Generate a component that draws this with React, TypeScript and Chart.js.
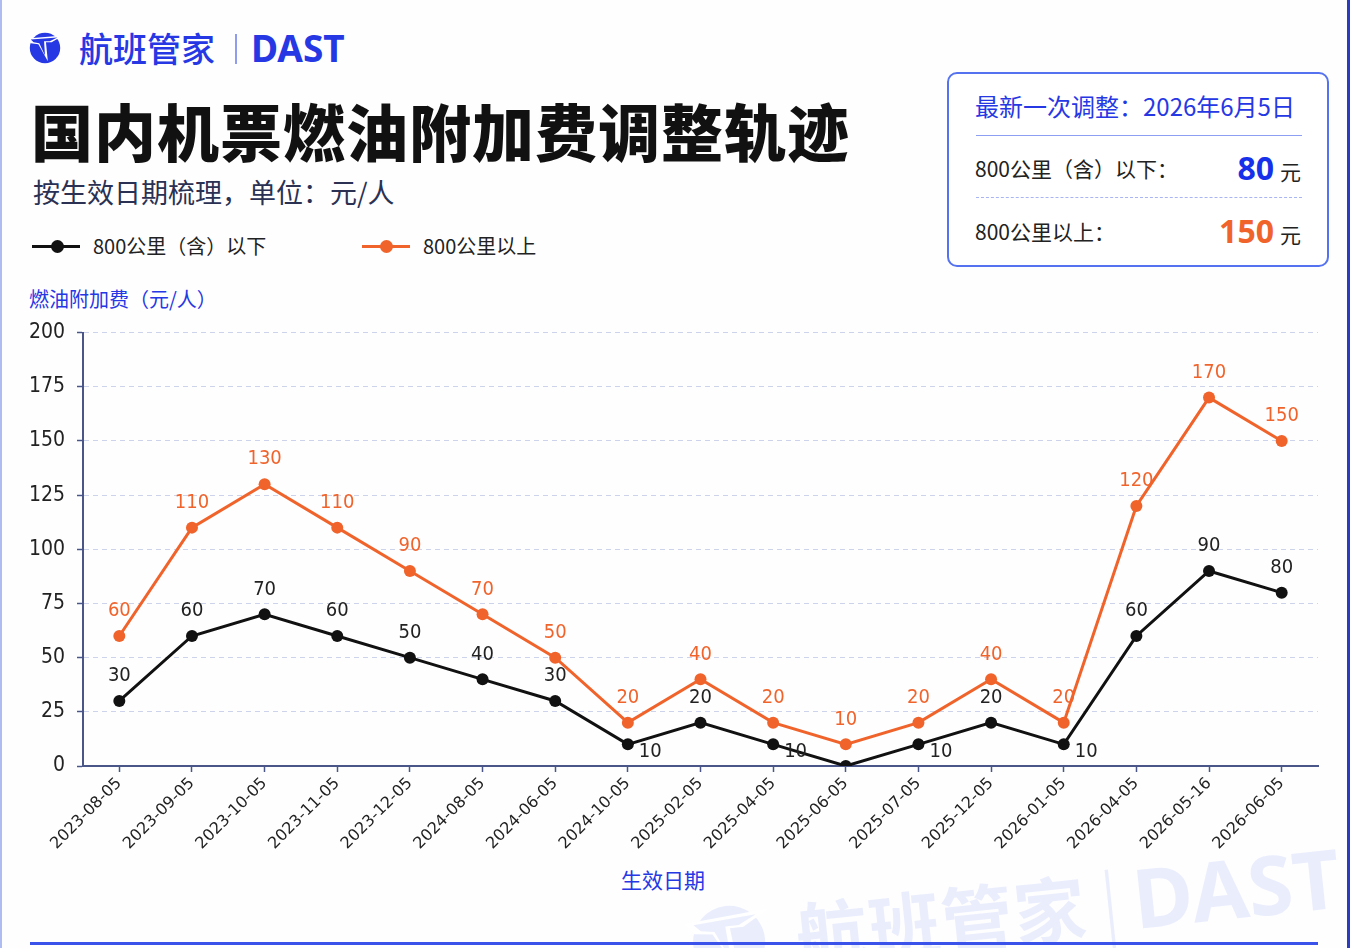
import React, { useEffect, useRef } from "react";
import { Chart, registerables } from "chart.js";
Chart.register(...registerables);

const categories = [
  "2023-08-05", "2023-09-05", "2023-10-05", "2023-11-05", "2023-12-05",
  "2024-08-05", "2024-06-05", "2024-10-05", "2025-02-05", "2025-04-05",
  "2025-06-05", "2025-07-05", "2025-12-05", "2026-01-05", "2026-04-05",
  "2026-05-16", "2026-06-05",
];
const below800 = [30, 60, 70, 60, 50, 40, 30, 10, 20, 10, 0, 10, 20, 10, 60, 90, 80];
const above800 = [60, 110, 130, 110, 90, 70, 50, 20, 40, 20, 10, 20, 40, 20, 120, 170, 150];
const yTicks = [0, 25, 50, 75, 100, 125, 150, 175, 200];

const seriesNames = ["800公里（含）以下", "800公里以上"];
const BLACK = "#111111";
const ORANGE = "#f0642c";
const BLUE = "#2638e4";
const AXIS = "#4a5687";
const CJK = "'Noto Sans CJK SC', 'Noto Sans', sans-serif";
const NUM = "'DejaVu Sans', sans-serif";

const condensePlugin = {
  id: "condense",
  beforeDraw(chart: any) {
    try {
      chart.ctx.fontStretch = "condensed";
    } catch (e) {}
  },
};

const labelPlugin = {
  id: "pointLabels",
  afterDatasetsDraw(chart: any) {
    const ctx = chart.ctx;
    ctx.save();
    ctx.font = `20px ${NUM}`;
    try {
      ctx.fontStretch = "condensed";
    } catch (e) {}
    chart.data.datasets.forEach((ds: any, di: number) => {
      const meta = chart.getDatasetMeta(di);
      meta.data.forEach((pt: any, i: number) => {
        const v = ds.data[i];
        ctx.fillStyle = di === 0 ? "#222222" : ORANGE;
        ctx.textBaseline = "middle";
        if (di === 0) {
          if (v === 0) return;
          if (v === 10) {
            ctx.textAlign = "left";
            ctx.fillText(String(v), pt.x + 11, pt.y + 7);
            return;
          }
        }
        ctx.textAlign = "center";
        ctx.fillText(String(v), pt.x, pt.y - 25);
      });
    });
    ctx.restore();
  },
};

function Logo({ size, color }: { size: number; color: string }) {
  return (
    <svg width={size} height={size} viewBox="0 0 40 40">
      <circle cx="20" cy="21" r="16" fill={color} />
      <path d="M1 11 L39 8 L27 15 L21 15 L23 35 L13 17 L5 16 Z" fill="#ffffff" />
      <path d="M5 12 L33 10 L25 14 L19 14 L20 29 L14 16 L8 15 Z" fill={color} />
    </svg>
  );
}

export default function App() {
  const ref = useRef<HTMLCanvasElement | null>(null);

  useEffect(() => {
    if (!ref.current) return;
    const chart = new Chart(ref.current, {
      type: "line",
      data: {
        labels: categories,
        datasets: [
          {
            label: seriesNames[0],
            data: below800,
            borderColor: BLACK,
            backgroundColor: BLACK,
            pointBackgroundColor: BLACK,
            pointBorderWidth: 0,
            pointRadius: 6,
            borderWidth: 3,
            tension: 0,
          },
          {
            label: seriesNames[1],
            data: above800,
            borderColor: ORANGE,
            backgroundColor: ORANGE,
            pointBackgroundColor: ORANGE,
            pointBorderWidth: 0,
            pointRadius: 6,
            borderWidth: 3,
            tension: 0,
          },
        ],
      },
      options: {
        responsive: false,
        animation: false,
        layout: { padding: { left: 23, right: 34, top: 11, bottom: 14 } },
        plugins: {
          legend: { display: false },
          tooltip: { enabled: false },
        },
        scales: {
          x: {
            offset: true,
            grid: {
              drawOnChartArea: false,
              drawTicks: true,
              tickLength: 6,
              tickColor: AXIS,
              tickWidth: 1.5,
            },
            border: { display: true, color: AXIS, width: 2 },
            ticks: {
              autoSkip: false,
              maxRotation: 45,
              minRotation: 45,
              padding: 2,
              color: "#222222",
              font: { family: NUM, size: 16 },
            },
            afterFit: (s: any) => {
              s.height = 100;
            },
          },
          y: {
            min: 0,
            max: 200,
            afterBuildTicks: (s: any) => {
              s.ticks = yTicks.map((v) => ({ value: v }));
            },
            grid: {
              color: "#cdd3ea",
              lineWidth: 1,
              tickColor: AXIS,
              tickLength: 6,
              tickWidth: 1.5,
            },
            border: { display: true, color: AXIS, width: 2, dash: [5, 4] },
            ticks: {
              padding: 12,
              color: "#222222",
              font: { family: NUM, size: 21 },
            },
            afterFit: (s: any) => {
              s.width = 60;
            },
          },
        },
      },
      plugins: [condensePlugin, labelPlugin],
    } as any);
    return () => chart.destroy();
  }, []);

  const abs = (x: number, y: number): React.CSSProperties => ({ position: "absolute", left: x, top: y });

  return (
    <div
      style={{
        position: "absolute",
        left: 0,
        top: 0,
        width: 1352,
        height: 948,
        overflow: "hidden",
        background: "#fefeff",
        fontFamily: CJK,
      }}
    >
      {/* frame lines */}
      <div style={{ ...abs(0, 0), width: 2, height: 948, background: "#aebcf2" }} />
      <div style={{ ...abs(1347, 0), width: 3, height: 948, background: "#2c3cc0" }} />

      {/* watermark */}
      <div
        style={{
          ...abs(690, 888),
          display: "flex",
          alignItems: "center",
          transform: "rotate(-6deg)",
          transformOrigin: "left bottom",
          color: "rgba(70,100,225,0.11)",
          whiteSpace: "nowrap",
        }}
      >
        <Logo size={90} color="rgba(70,100,225,0.11)" />
        <span style={{ fontSize: 72, fontWeight: 700, marginLeft: 22, letterSpacing: 1 }}>航班管家</span>
        <span style={{ fontSize: 76, fontWeight: 300, margin: "0 14px" }}>|</span>
        <span style={{ fontSize: 82, fontWeight: 700, fontFamily: "'Noto Sans', sans-serif" }}>DAST</span>
      </div>
      <div style={{ ...abs(30, 942), width: 1288, height: 3, background: "#3b52ea" }} />

      {/* header */}
      <div style={{ ...abs(26, 28) }}>
        <Logo size={38} color={BLUE} />
      </div>
      <div style={{ ...abs(79, 24), fontSize: 34, fontWeight: 500, color: BLUE, whiteSpace: "nowrap", lineHeight: "48px" }}>
        航班管家
      </div>
      <div style={{ ...abs(235, 34), width: 1.5, height: 30, background: "#8f9df0" }} />
      <div
        style={{
          ...abs(251, 24),
          fontSize: 37,
          fontWeight: 700,
          color: BLUE,
          lineHeight: "48px",
          fontFamily: "'Noto Sans', sans-serif",
        }}
      >
        DAST
      </div>

      <div
        style={{
          ...abs(31, 90),
          fontSize: 62,
          fontWeight: 900,
          color: "#111111",
          letterSpacing: 1,
          whiteSpace: "nowrap",
          lineHeight: "80px",
        }}
      >
        国内机票燃油附加费调整轨迹
      </div>
      <div style={{ ...abs(33, 174), fontSize: 27, color: "#2a3152", whiteSpace: "nowrap", lineHeight: "36px" }}>
        按生效日期梳理，单位：元/人
      </div>

      {/* legend */}
      <div style={{ ...abs(32, 245), width: 48, height: 3, background: BLACK }} />
      <div style={{ ...abs(51, 240), width: 13, height: 13, borderRadius: 7, background: BLACK }} />
      <div style={{ ...abs(93, 232), fontSize: 20, color: "#222", lineHeight: "28px", whiteSpace: "nowrap" }}>
        {seriesNames[0]}
      </div>
      <div style={{ ...abs(362, 245), width: 48, height: 3, background: ORANGE }} />
      <div style={{ ...abs(380, 240), width: 13, height: 13, borderRadius: 7, background: ORANGE }} />
      <div style={{ ...abs(423, 232), fontSize: 20, color: "#222", lineHeight: "28px", whiteSpace: "nowrap" }}>
        {seriesNames[1]}
      </div>

      {/* info box */}
      <div
        style={{
          ...abs(947, 72),
          width: 378,
          height: 191,
          border: "2px solid #5572f0",
          borderRadius: 10,
          background: "#ffffff",
        }}
      >
        <div style={{ ...abs(26, 16), fontSize: 24, color: BLUE, whiteSpace: "nowrap", lineHeight: "32px" }}>
          最新一次调整：2026年6月5日
        </div>
        <div style={{ ...abs(27, 61), width: 326, height: 1, background: "#8d9ff2" }} />
        <div style={{ ...abs(26, 79), fontSize: 21, color: "#222", whiteSpace: "nowrap", lineHeight: "30px" }}>
          800公里（含）以下：
        </div>
        <div
          style={{
            position: "absolute",
            right: 26,
            top: 72,
            whiteSpace: "nowrap",
            display: "flex",
            alignItems: "baseline",
          }}
        >
          <span style={{ fontSize: 32, fontWeight: 700, color: "#1730ea", fontFamily: "'Noto Sans', sans-serif" }}>80</span>
          <span style={{ fontSize: 21, color: "#222", marginLeft: 6 }}>元</span>
        </div>
        <div style={{ ...abs(27, 123), width: 326, height: 0, borderTop: "1.5px dashed #a9b5f2" }} />
        <div style={{ ...abs(26, 142), fontSize: 21, color: "#222", whiteSpace: "nowrap", lineHeight: "30px" }}>
          800公里以上：
        </div>
        <div
          style={{
            position: "absolute",
            right: 26,
            top: 135,
            whiteSpace: "nowrap",
            display: "flex",
            alignItems: "baseline",
          }}
        >
          <span style={{ fontSize: 32, fontWeight: 700, color: ORANGE, fontFamily: "'Noto Sans', sans-serif" }}>150</span>
          <span style={{ fontSize: 21, color: "#222", marginLeft: 6 }}>元</span>
        </div>
      </div>

      {/* axis titles */}
      <div style={{ ...abs(29, 285), fontSize: 20, color: BLUE, whiteSpace: "nowrap", lineHeight: "28px" }}>
        燃油附加费（元/人）
      </div>
      <div style={{ ...abs(621, 864), fontSize: 21, color: BLUE, whiteSpace: "nowrap", lineHeight: "30px" }}>
        生效日期
      </div>

      <div style={{ ...abs(0, 308), width: 1352, height: 572 }}>
        <canvas ref={ref} width={1352} height={572} style={{ width: 1352, height: 572, display: "block" }} />
      </div>
    </div>
  );
}
